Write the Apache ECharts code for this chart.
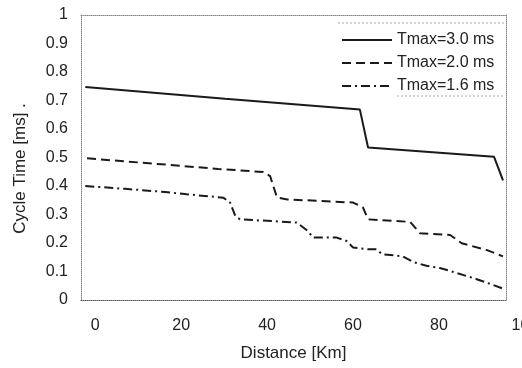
<!DOCTYPE html>
<html>
<head>
<meta charset="utf-8">
<script src="https://cdn.jsdelivr.net/npm/echarts@6/dist/echarts.min.js"></script>
<style>
  html, body { margin: 0; padding: 0; background: #fff; overflow: hidden; }
  #chart { width: 522px; height: 368px; }
</style>
</head>
<body>
<div id="chart"></div>
<script>
// values
const seriesNames = ["Tmax=3.0 ms", "Tmax=2.0 ms", "Tmax=1.6 ms"];

const dist30 = [-2.3, 30.2, 61.6, 63.5, 92.8, 94.9];
const time30 = [0.747, 0.706, 0.668, 0.535, 0.503, 0.42];

const dist20 = [-1.9, 13.2, 28.6, 39.1, 40.7, 42.3, 44.7, 60.0, 62.3, 63.5, 73.3, 74.4, 75.6, 82.6, 84.2, 85.3, 91.2, 94.9];
const time20 = [0.497, 0.479, 0.46, 0.449, 0.435, 0.36, 0.353, 0.342, 0.325, 0.283, 0.274, 0.255, 0.234, 0.228, 0.211, 0.199, 0.175, 0.153];

const dist16 = [-2.3, 7.0, 16.3, 21.3, 29.8, 31.4, 32.6, 33.7, 46.9, 49.5, 50.7, 56.2, 58.5, 60.0, 63.5, 65.5, 66.7, 71.6, 73.9, 77.1, 80.2, 82.6, 88.8, 94.2, 94.9];
const time16 = [0.4, 0.39, 0.379, 0.371, 0.359, 0.342, 0.295, 0.283, 0.272, 0.242, 0.219, 0.219, 0.207, 0.184, 0.178, 0.178, 0.161, 0.153, 0.134, 0.12, 0.112, 0.102, 0.073, 0.044, 0.04];

const xTicks = [0, 20, 40, 60, 80, 100];
const xMin = -3.3, xMax = 95.6;

const pairs = (xs, ys) => xs.map((x, i) => [x, ys[i]]);

const font = "Liberation Sans";
const ink = "#1a1a1a";
const frame = { show: true, onZero: false, lineStyle: { color: "#888", type: "dotted", width: 1 } };

const chart = echarts.init(document.getElementById("chart"));

const lineSeries = (name, xs, ys, dash) => ({
  name: name,
  type: "line",
  xAxisIndex: 0,
  yAxisIndex: 0,
  data: pairs(xs, ys),
  symbol: "none",
  silent: true,
  lineStyle: { color: ink, width: 2, type: dash },
  itemStyle: { color: ink },
});

chart.setOption({
  animation: false,
  grid: { left: 81, right: 16, top: 15, bottom: 68 },
  legend: {
    data: seriesNames,
    orient: "vertical",
    left: 336,
    top: 27,
    itemWidth: 50,
    itemHeight: 16,
    itemGap: 7,
    itemStyle: { opacity: 0 },
    textStyle: { fontFamily: font, fontSize: 16, color: "#222" },
  },
  xAxis: [
    {
      type: "value",
      min: xMin,
      max: xMax,
      name: "Distance [Km]",
      nameLocation: "middle",
      nameGap: 45,
      nameTextStyle: { fontFamily: font, fontSize: 17, color: "#222" },
      axisLine: { show: true, onZero: false, lineStyle: { color: "#555", type: "dotted", width: 1 } },
      axisTick: { show: false },
      splitLine: { show: false },
      axisLabel: {
        customValues: xTicks.filter((v) => v <= xMax),
        fontFamily: font,
        fontSize: 16,
        color: "#222",
        margin: 18,
      },
    },
    {
      type: "value",
      position: "top",
      min: xMin,
      max: xMax,
      axisLine: frame,
      axisTick: { show: false },
      axisLabel: { show: false },
      splitLine: { show: false },
    },
  ],
  yAxis: [
    {
      type: "value",
      min: 0,
      max: 1,
      interval: 0.1,
      name: "Cycle Time [ms] .",
      nameLocation: "middle",
      nameGap: 52,
      nameTextStyle: { fontFamily: font, fontSize: 17, color: "#222", padding: [0, 22, 0, 0] },
      axisLine: frame,
      axisTick: { show: false },
      splitLine: { show: false },
      axisLabel: { fontFamily: font, fontSize: 16, color: "#222", margin: 13 },
    },
    {
      type: "value",
      position: "right",
      min: 0,
      max: 1,
      axisLine: frame,
      axisTick: { show: false },
      axisLabel: { show: false },
      splitLine: { show: false },
    },
  ],
  series: [
    lineSeries(seriesNames[0], dist30, time30, "solid"),
    lineSeries(seriesNames[1], dist20, time20, [9, 5]),
    lineSeries(seriesNames[2], dist16, time16, [9, 4, 2, 4]),
  ],
});

// the last tick label sits past the frame and is cut by the page edge
const lastTick = xTicks[xTicks.length - 1];
const px = chart.convertToPixel({ xAxisIndex: 0 }, lastTick);
const py = chart.convertToPixel({ yAxisIndex: 0 }, 0);
chart.setOption({
  graphic: [
    {
      type: "text",
      x: px,
      y: py + 18,
      style: {
        text: String(lastTick),
        fontFamily: font,
        fontSize: 16,
        fill: "#222",
        align: "center",
        verticalAlign: "top",
      },
    },
    {
      type: "line",
      shape: { x1: 338, y1: 23, x2: 504, y2: 23 },
      style: { stroke: "#aaa", lineWidth: 1, lineDash: [2, 2] },
    },
    {
      type: "line",
      shape: { x1: 397, y1: 96, x2: 504, y2: 96 },
      style: { stroke: "#aaa", lineWidth: 1, lineDash: [2, 2] },
    },
  ],
});
</script>
</body>
</html>
